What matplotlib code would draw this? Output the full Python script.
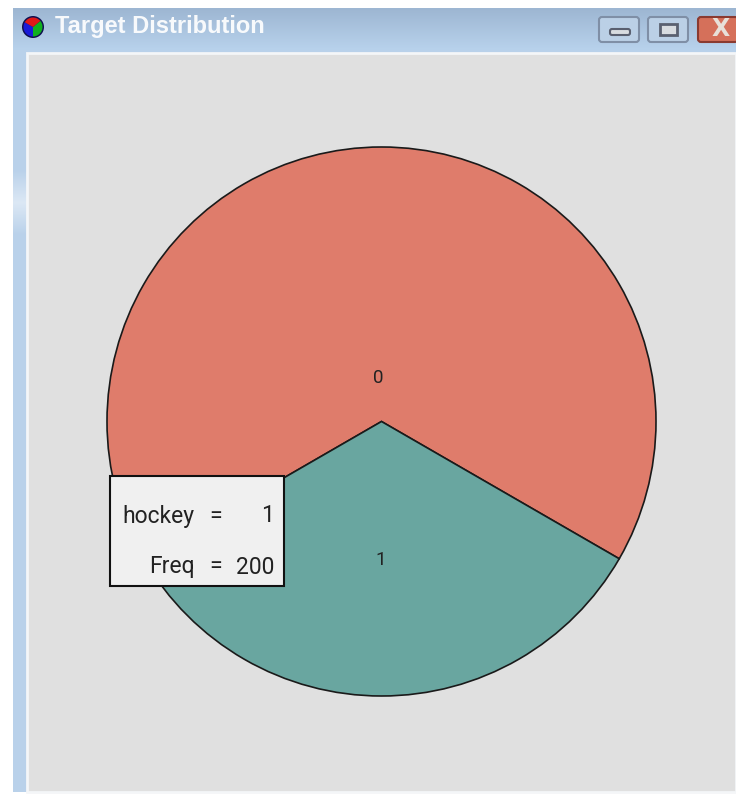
#!/usr/bin/env python3

import numpy as np
import matplotlib
matplotlib.use('Agg')
import matplotlib.pyplot as plt
from matplotlib.colors import LinearSegmentedColormap
from matplotlib.patches import Rectangle, FancyBboxPatch, Wedge, Circle

WIDTH, HEIGHT = 736, 796

# Data
categories = ['0', '1']
freqs = [400, 200]
colors = ['#DF7C6B', '#69A6A0']
title = 'Target Distribution'
tooltip_rows = [('hockey', '1'), ('Freq', '200')]

fig = plt.figure(figsize=(WIDTH / 100, HEIGHT / 100), dpi=100, facecolor='white')

# full size axes in pixel coordinates for the window decoration
bg = fig.add_axes([0, 0, 1, 1])
bg.axis('off')

# window frame, with the lighter streak on the left edge
bg.add_patch(Rectangle((13, 8), 723, 784, fc='#B9D1EA', ec='none', zorder=1))
streak = LinearSegmentedColormap.from_list('s', ['#B9D1EA', '#DCE8F5', '#B9D1EA'])
bg.imshow(np.linspace(0, 1, 256).reshape(-1, 1), extent=(13, 27, 235, 170),
          cmap=streak, aspect='auto', zorder=1.5)

# title bar gradient, darker at the top
bar = LinearSegmentedColormap.from_list('t', ['#9DB6D2', '#B8D2EC'])
bg.imshow(np.linspace(0, 1, 64).reshape(-1, 1), extent=(13, 736, 50, 8),
          cmap=bar, aspect='auto', zorder=2)
bg.set_xlim(0, WIDTH)
bg.set_ylim(HEIGHT, 0)

# client area
bg.add_patch(Rectangle((27, 53), 709, 739, fc='#E0E0E0', ec='#F4F6F8', lw=2, zorder=3))

# little pie icon (y axis is flipped here, so the angles run the other way)
icon_x, icon_y = 33, 27
bg.add_patch(Circle((icon_x, icon_y), 11, fc='#101050', ec='none', zorder=4))
bg.add_patch(Wedge((icon_x, icon_y), 9.5, 90, 210, fc='#1A1AD8', ec='none', zorder=5))
bg.add_patch(Wedge((icon_x, icon_y), 9.5, 320, 90, fc='#10B020', ec='none', zorder=5))
bg.add_patch(Wedge((icon_x, icon_y), 9.5, 210, 320, fc='#E01818', ec='none', zorder=5))

bg.text(55, 26, title, color='white', fontsize=17, fontweight='bold',
        family='Liberation Sans', va='center', ha='left', zorder=6, alpha=0.92)

# minimize / maximize / close buttons
for x, w, face, edge in [(599, 44, '#BBD0E6', '#7F8FA6'), (648, 44, '#BBD0E6', '#7F8FA6'),
                         (698, 44, '#D5705A', '#8A3A30')]:
    bg.add_patch(FancyBboxPatch((x, 17), w - 4, 25, boxstyle='round,pad=0,rounding_size=3',
                                fc=face, ec=edge, lw=1.5, zorder=4))
bg.add_patch(FancyBboxPatch((610, 29), 20, 6, boxstyle='round,pad=0,rounding_size=2',
                            fc='#D8DCE0', ec='#5A6070', lw=1.5, zorder=5))
bg.add_patch(Rectangle((660, 24), 17, 11, fc='#D8DCE0', ec='#5A6070', lw=2, zorder=5))
bg.text(721, 29, 'X', color='#E8E0D8', fontsize=17, fontweight='bold', ha='center', va='center',
        zorder=5)

# the pie itself, axes a little bigger than the circle so the outline is not clipped
cx, cy, r, pad = 381.5, 421.5, 274.5, 6
lim = (r + pad) / r
ax = fig.add_axes([(cx - r - pad) / WIDTH, 1 - (cy + r + pad) / HEIGHT,
                   2 * (r + pad) / WIDTH, 2 * (r + pad) / HEIGHT])
ax.pie(freqs, colors=colors, startangle=-30, radius=1,
       wedgeprops={'edgecolor': '#1A1A1A', 'linewidth': 1.2})
ax.set_xlim(-lim, lim)
ax.set_ylim(-lim, lim)
ax.set_aspect('equal')
ax.patch.set_alpha(0)

# slice labels
ax.text(-0.012, 0.16, categories[0], fontsize=13.5, family='Roboto', ha='center', va='center',
        color='#222222')
ax.text(-0.002, -0.505, categories[1], fontsize=13.5, family='Roboto', ha='center', va='center',
        color='#222222')

# tooltip box
top = fig.add_axes([0, 0, 1, 1])
top.set_xlim(0, WIDTH)
top.set_ylim(HEIGHT, 0)
top.axis('off')
top.patch.set_alpha(0)
top.add_patch(Rectangle((110, 476), 174, 110, fc='#F0F0F0', ec='#111111', lw=1.5))
for (label, value), y in zip(tooltip_rows, [516, 567]):
    top.text(195, y, label, fontsize=16.5, family='Roboto', ha='right', va='center', color='#222222')
    top.text(222, y, '=', fontsize=16.5, family='Roboto', ha='right', va='center', color='#222222')
    top.text(274, y, value, fontsize=16.5, family='Roboto', ha='right', va='center', color='#222222')

plt.savefig('out.png', dpi=100, facecolor='white')
